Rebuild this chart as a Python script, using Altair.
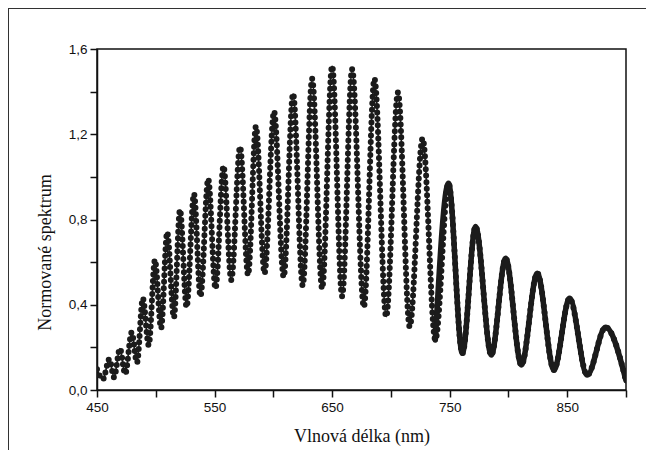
import altair as alt
import pandas as pd

wavelength = [450, 455, 460.5, 464.5, 469.5, 474, 479.5, 484, 489, 494, 499.3, 504.5,
              509.7, 515.4, 520.6, 526.2, 532.5, 538, 544.6, 550.8, 557.6, 564.2,
              571.7, 578.5, 585.2, 592.5, 600.6, 608.8, 616.8, 625, 633, 641.5,
              650, 658.5, 667, 677, 686, 696, 706, 716, 727, 737.8, 749, 760.8,
              772, 785.4, 797.6, 811, 824.5, 838.7, 852, 867, 882.6, 900]
spectrum = [0.097, 0.05, 0.145, 0.06, 0.194, 0.075, 0.27, 0.128, 0.43, 0.21, 0.61, 0.29,
            0.74, 0.34, 0.845, 0.39, 0.92, 0.44, 0.99, 0.477, 1.05, 0.516,
            1.14, 0.54, 1.236, 0.548, 1.307, 0.53, 1.39, 0.49, 1.46, 0.477,
            1.52, 0.44, 1.505, 0.39, 1.46, 0.344, 1.396, 0.297, 1.18, 0.235, 0.97, 0.172,
            0.767, 0.164, 0.618, 0.117, 0.548, 0.094, 0.43, 0.07, 0.294, 0.044]

x_ticks = [450, 500, 550, 600, 650, 700, 750, 800, 850, 900]
y_ticks = [0, 0.2, 0.4, 0.6, 0.8, 1.0, 1.2, 1.4, 1.6]

df = pd.DataFrame({"wl": wavelength, "s": spectrum})

ink = "#1b1b1b"

x_enc = alt.X("wl:Q", scale=alt.Scale(domain=[450, 900], nice=False, zero=False),
              axis=alt.Axis(values=x_ticks, title="Vlnová délka (nm)", labelFlush=False,
                            ticks=True, tickSize=7, tickWidth=1.5, tickColor="#111",
                            labelExpr="(datum.value - 450) % 100 == 0 ? datum.label : ''",
                            format="d"))
y_enc = alt.Y("s:Q", scale=alt.Scale(domain=[0, 1.6], nice=False),
              axis=alt.Axis(values=y_ticks, title="Normované spektrum", labelFlush=False,
                            ticks=True, tickSize=7, tickWidth=1.5, tickColor="#111",
                            labelExpr="(round(datum.value*10) % 4 == 0) ? replace(format(datum.value, '.1f'), '.', ',') : ''",
                            titleX=-47, titleY=203, titleAlign="center",
                            titleBaseline="alphabetic", titleAngle=-90))

base = alt.Chart(df)

thin = base.mark_line(interpolate="monotone", color=ink, strokeWidth=1.6, clip=True).encode(x=x_enc, y=y_enc)
beads = base.mark_line(interpolate="monotone", color=ink, strokeWidth=6,
                       strokeDash=[0, 6.5], strokeCap="round", clip=True).encode(x=x_enc, y=y_enc)
solid = base.transform_filter(alt.datum.wl >= 737).mark_line(
    interpolate="monotone", color=ink, strokeWidth=5.5, strokeCap="round", clip=True
).encode(x=x_enc, y=y_enc)

frame_top = alt.Chart(df).mark_rule(color="#333", strokeWidth=1.2).encode(
    x=alt.value(-89), x2=alt.value(700), y=alt.value(-41))
frame_left = alt.Chart(df).mark_rule(color="#333", strokeWidth=1.2).encode(
    x=alt.value(-89), y=alt.value(-41), y2=alt.value(500))

chart = alt.layer(thin, beads, solid, frame_top, frame_left).properties(
    width=529, height=341,
    autosize=alt.AutoSizeParams(type="none"),
    padding={"left": 89, "top": 41, "right": 20, "bottom": 60},
).configure_view(
    stroke="#111", strokeWidth=1.5
).configure_axis(
    domainColor="#111", domainWidth=1.5,
    grid=False, labelFont="Liberation Sans", labelFontSize=13.5, labelColor="#111",
    labelPadding=3, titleFont="Liberation Serif", titleFontSize=18,
    titleFontWeight="normal", titleColor="#111"
).configure_axisX(
    labelPadding=3, titlePadding=14
)

chart.save("out.html", embed_options={"renderer": "svg", "actions": False})
